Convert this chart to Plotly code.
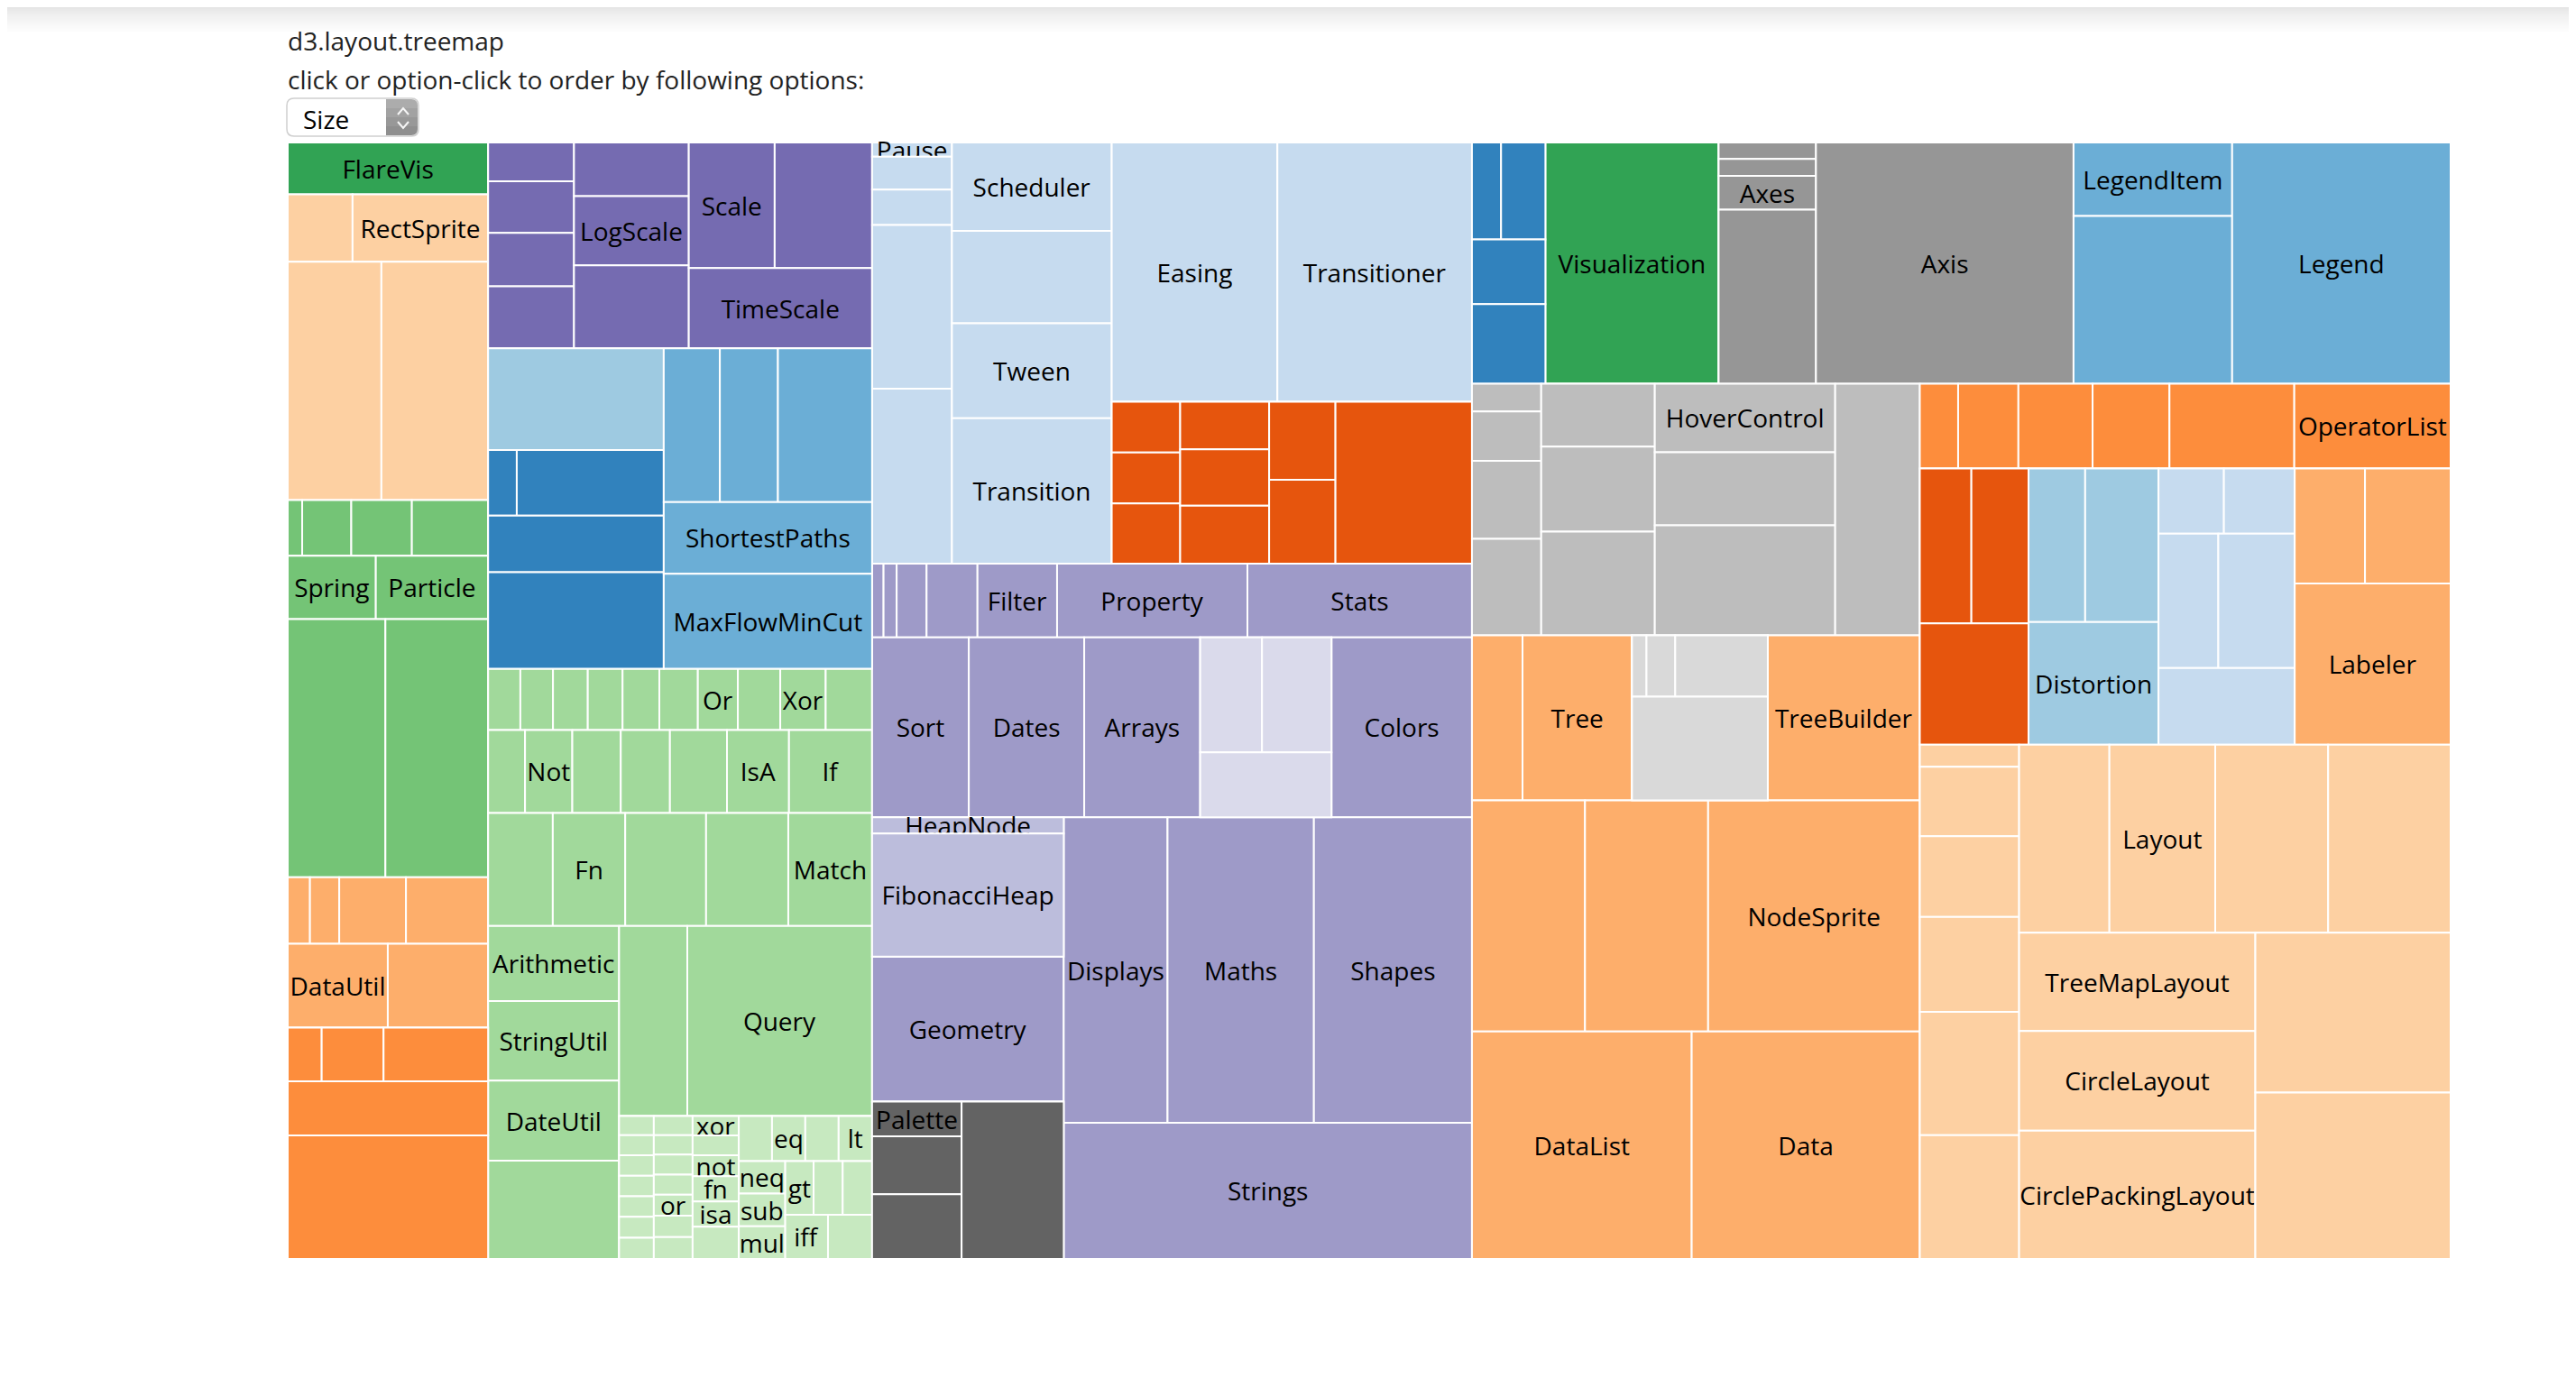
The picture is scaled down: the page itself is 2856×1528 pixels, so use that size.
import plotly.graph_objects as go

# ---------------- data: flare class hierarchy (leaf name, size) ----------------
analytics_cluster = [("AgglomerativeCluster", 3938), ("CommunityStructure", 3812),
                     ("HierarchicalCluster", 6714), ("MergeEdge", 743)]
analytics_graph = [("BetweennessCentrality", 3534), ("LinkDistance", 5731), ("MaxFlowMinCut", 7840),
                   ("ShortestPaths", 5914), ("SpanningTree", 3416)]
analytics_optimization = [("AspectRatioBanker", 7074)]
animate_pkg = [("Easing", 17010), ("FunctionSequence", 5842), ("ISchedulable", 1041), ("Parallel", 5176),
               ("Pause", 449), ("Scheduler", 5593), ("Sequence", 5534), ("Transition", 9201),
               ("Transitioner", 19975), ("TransitionEvent", 1116), ("Tween", 6006)]
animate_interpolate = [("ArrayInterpolator", 1983), ("ColorInterpolator", 2047), ("DateInterpolator", 1375),
                       ("Interpolator", 8746), ("MatrixInterpolator", 2202), ("NumberInterpolator", 1382),
                       ("ObjectInterpolator", 1629), ("PointInterpolator", 1675), ("RectangleInterpolator", 2042)]
data_converters = [("Converters", 721), ("DelimitedTextConverter", 4294), ("GraphMLConverter", 9800),
                   ("IDataConverter", 1314), ("JSONConverter", 2220)]
data_pkg = [("DataField", 1759), ("DataSchema", 2165), ("DataSet", 586), ("DataSource", 3331),
            ("DataTable", 772), ("DataUtil", 3322)]
display_pkg = [("DirtySprite", 8833), ("LineSprite", 1732), ("RectSprite", 3623), ("TextSprite", 10066)]
flex_pkg = [("FlareVis", 4116)]
physics_pkg = [("DragForce", 1082), ("GravityForce", 1336), ("IForce", 319), ("NBodyForce", 10498),
               ("Particle", 2822), ("Simulation", 9983), ("Spring", 2213), ("SpringForce", 1681)]
query_pkg = [("AggregateExpression", 1616), ("And", 1027), ("Arithmetic", 3891), ("Average", 891),
             ("BinaryExpression", 2893), ("Comparison", 5103), ("CompositeExpression", 3677), ("Count", 781),
             ("DateUtil", 4141), ("Distinct", 933), ("Expression", 5130), ("ExpressionIterator", 3617),
             ("Fn", 3240), ("If", 2732), ("IsA", 2039), ("Literal", 1214), ("Match", 3748), ("Maximum", 843),
             ("Minimum", 843), ("Not", 1554), ("Or", 970), ("Query", 13896), ("Range", 1594),
             ("StringUtil", 4130), ("Sum", 791), ("Variable", 1124), ("Variance", 1876), ("Xor", 1101)]
query_methods = [("add", 593), ("and", 330), ("average", 287), ("count", 277), ("distinct", 292), ("div", 595),
                 ("eq", 594), ("fn", 460), ("gt", 603), ("gte", 625), ("iff", 748), ("isa", 461), ("lt", 597),
                 ("lte", 619), ("max", 283), ("min", 283), ("mod", 591), ("mul", 603), ("neq", 599),
                 ("not", 386), ("or", 323), ("orderby", 307), ("range", 772), ("select", 296), ("stddev", 363),
                 ("sub", 600), ("sum", 280), ("update", 307), ("variance", 335), ("where", 299), ("xor", 354),
                 ("_", 264)]
scale_pkg = [("IScaleMap", 2105), ("LinearScale", 1316), ("LogScale", 3151), ("OrdinalScale", 3770),
             ("QuantileScale", 2435), ("QuantitativeScale", 4839), ("RootScale", 1756), ("Scale", 4268),
             ("ScaleType", 1821), ("TimeScale", 5833)]
util_pkg = [("Arrays", 8258), ("Colors", 10001), ("Dates", 8217), ("Displays", 12555), ("Filter", 2324),
            ("Geometry", 10993), ("IEvaluable", 335), ("IPredicate", 383), ("IValueProxy", 874),
            ("Maths", 17705), ("Orientation", 1486), ("Property", 5559), ("Shapes", 19118), ("Sort", 6887),
            ("Stats", 6557), ("Strings", 22026)]
util_heap = [("FibonacciHeap", 9354), ("HeapNode", 1233)]
util_math = [("DenseMatrix", 3165), ("IMatrix", 2815), ("SparseMatrix", 3366)]
util_palette = [("ColorPalette", 6367), ("Palette", 1229), ("ShapePalette", 2059), ("SizePalette", 2291)]
vis_axis = [("Axes", 1302), ("Axis", 24593), ("AxisGridLine", 652), ("AxisLabel", 636), ("CartesianAxes", 6703)]
vis_controls = [("AnchorControl", 2138), ("ClickControl", 3824), ("Control", 1353), ("ControlList", 4665),
                ("DragControl", 2649), ("ExpandControl", 2832), ("HoverControl", 4896), ("IControl", 763),
                ("PanZoomControl", 5222), ("SelectionControl", 7862), ("TooltipControl", 8435)]
vis_data = [("Data", 20544), ("DataList", 19788), ("DataSprite", 10349), ("EdgeSprite", 3301),
            ("NodeSprite", 19382), ("ScaleBinding", 11275), ("Tree", 7147), ("TreeBuilder", 9930)]
vis_data_render = [("ArrowType", 698), ("EdgeRenderer", 5569), ("IRenderer", 353), ("ShapeRenderer", 2247)]
vis_events = [("DataEvent", 2313), ("SelectionEvent", 1880), ("TooltipEvent", 1701), ("VisualizationEvent", 1117)]
vis_legend = [("Legend", 20859), ("LegendItem", 4614), ("LegendRange", 10530)]
vis_operator_distortion = [("BifocalDistortion", 4461), ("Distortion", 6314), ("FisheyeDistortion", 3444)]
vis_operator_encoder = [("ColorEncoder", 3179), ("Encoder", 4060), ("PropertyEncoder", 4138),
                        ("ShapeEncoder", 1690), ("SizeEncoder", 1830)]
vis_operator_filter = [("FisheyeTreeFilter", 5219), ("GraphDistanceFilter", 3165), ("VisibilityFilter", 3509)]
vis_operator = [("IOperator", 1286), ("Operator", 2490), ("OperatorList", 5248), ("OperatorSequence", 4190),
                ("OperatorSwitch", 2581), ("SortOperator", 2023)]
vis_operator_label = [("Labeler", 9956), ("RadialLabeler", 3899), ("StackedAreaLabeler", 3202)]
vis_operator_layout = [("AxisLayout", 6725), ("BundledEdgeRouter", 3727), ("CircleLayout", 9317),
                       ("CirclePackingLayout", 12003), ("DendrogramLayout", 4853), ("ForceDirectedLayout", 8411),
                       ("IcicleTreeLayout", 4864), ("IndentedTreeLayout", 3174), ("Layout", 7881),
                       ("NodeLinkTreeLayout", 12870), ("PieLayout", 2728), ("RadialTreeLayout", 12348),
                       ("RandomLayout", 870), ("StackedAreaLayout", 9121), ("TreeMapLayout", 9191)]
vis_pkg = [("Visualization", 16540)]

# packages in the order their leaves appear in the source file
PACKAGES = [
    ("flare/analytics/cluster", analytics_cluster), ("flare/analytics/graph", analytics_graph),
    ("flare/analytics/optimization", analytics_optimization), ("flare/animate", animate_pkg),
    ("flare/animate/interpolate", animate_interpolate), ("flare/data/converters", data_converters),
    ("flare/data", data_pkg), ("flare/display", display_pkg), ("flare/flex", flex_pkg),
    ("flare/physics", physics_pkg), ("flare/query", query_pkg), ("flare/query/methods", query_methods),
    ("flare/scale", scale_pkg), ("flare/util", util_pkg), ("flare/util/heap", util_heap),
    ("flare/util/math", util_math), ("flare/util/palette", util_palette), ("flare/vis/axis", vis_axis),
    ("flare/vis/controls", vis_controls), ("flare/vis/data", vis_data), ("flare/vis/data/render", vis_data_render),
    ("flare/vis/events", vis_events), ("flare/vis/legend", vis_legend),
    ("flare/vis/operator/distortion", vis_operator_distortion), ("flare/vis/operator/encoder", vis_operator_encoder),
    ("flare/vis/operator/filter", vis_operator_filter), ("flare/vis/operator", vis_operator),
    ("flare/vis/operator/label", vis_operator_label), ("flare/vis/operator/layout", vis_operator_layout),
    ("flare/vis", vis_pkg),
]

# leaf names whose label is legible in the picture (the rest are too narrow)
LABELED = {
    "FlareVis", "RectSprite", "Spring", "Particle", "DataUtil", "LogScale", "Scale", "TimeScale",
    "ShortestPaths", "MaxFlowMinCut", "Or", "Xor", "Not", "IsA", "If", "Fn", "Match", "Arithmetic",
    "Query", "StringUtil", "DateUtil", "_", "xor", "eq", "lt", "not", "fn", "isa", "or", "neq", "sub",
    "mul", "gt", "iff", "Pause", "Scheduler", "Easing", "Transitioner", "Tween", "Transition", "Filter",
    "Property", "Stats", "Sort", "Dates", "Arrays", "Colors", "HeapNode", "FibonacciHeap", "Geometry",
    "Displays", "Maths", "Shapes", "Strings", "Palette", "Visualization", "Axes", "Axis", "LegendItem",
    "Legend", "HoverControl", "OperatorList", "Distortion", "Labeler", "Tree", "TreeBuilder",
    "NodeSprite", "DataList", "Data", "Layout", "TreeMapLayout", "CircleLayout", "CirclePackingLayout",
}

# d3 category20c
CATEGORY20C = ["#3182bd", "#6baed6", "#9ecae1", "#c6dbef", "#e6550d", "#fd8d3c", "#fdae6b", "#fdd0a2",
               "#31a354", "#74c476", "#a1d99b", "#c7e9c0", "#756bb1", "#9e9ac8", "#bcbddc", "#dadaeb",
               "#636363", "#969696", "#bdbdbd", "#d9d9d9"]

# ---------------- build hierarchy ----------------
children = {"flare": []}
label_of = {"flare": "flare"}
leaf_size = {}
leaf_parent_name = {}
color_domain = []


def ensure(path):
    if path in children:
        return
    parent = path.rsplit("/", 1)[0]
    ensure(parent)
    children[path] = []
    label_of[path] = path.rsplit("/", 1)[1]
    children[parent].append(path)


for path, leaves in PACKAGES:
    ensure(path)
    pname = label_of[path]
    if pname not in color_domain:
        color_domain.append(pname)
    for name, size in leaves:
        lid = path + "/" + name
        children[path].append(lid)
        label_of[lid] = name
        leaf_size[lid] = size
        leaf_parent_name[lid] = pname


def total(node):
    if node in leaf_size:
        return leaf_size[node]
    return sum(total(c) for c in children[node])


ids, labels, parents, values, colors, templates = [], [], [], [], [], []


def walk(node, parent):
    ids.append(node)
    labels.append(label_of[node])
    parents.append(parent)
    values.append(total(node))
    if node in leaf_size:
        colors.append(CATEGORY20C[color_domain.index(leaf_parent_name[node]) % 20])
        templates.append("%{label}" if label_of[node] in LABELED else "")
    else:
        colors.append("#ffffff")
        templates.append("")
        # "order by size": smallest first (ties: later entry first)
        for c in sorted(reversed(children[node]), key=total):
            walk(c, node)


walk("flare", "")

# ---------------- figure ----------------
W, H = 2840, 1512
ML, MR, MT, MB = 311, 131, 150, 124
PW, PH = W - ML - MR, H - MT - MB


def X(px):  # page px -> paper
    return (px - 8 - ML) / PW


def Y(py):
    return 1 - (py - 8 - MT) / PH


fig = go.Figure(go.Treemap(
    ids=ids, labels=labels, parents=parents, values=values,
    branchvalues="total", sort=False,
    marker=dict(colors=colors, line=dict(color="#ffffff", width=2),
                pad=dict(t=0, l=0, r=0, b=0)),
    tiling=dict(packing="squarify", squarifyratio=(1 + 5 ** 0.5) / 2, pad=0),
    texttemplate=templates, textposition="middle center",
    textfont=dict(family="Open Sans", size=28, color="#000000"),
    pathbar=dict(visible=False),
    root=dict(color="#ffffff"),
    hoverinfo="label+value",
))

shapes = []
# soft page-top shadow
for i in range(28):
    g = int(228 + (255 - 228) * (i / 28) ** 0.7)
    shapes.append(dict(type="rect", xref="paper", yref="paper", x0=X(8), x1=X(2848),
                       y0=Y(8 + i), y1=Y(9 + i), line=dict(width=0),
                       fillcolor=f"rgb({g},{g},{g})", layer="above"))


def rpath(x0, y0, x1, y1, r):
    return (f"M{X(x0 + r)},{Y(y0)} L{X(x1 - r)},{Y(y0)} Q{X(x1)},{Y(y0)} {X(x1)},{Y(y0 + r)} "
            f"L{X(x1)},{Y(y1 - r)} Q{X(x1)},{Y(y1)} {X(x1 - r)},{Y(y1)} L{X(x0 + r)},{Y(y1)} "
            f"Q{X(x0)},{Y(y1)} {X(x0)},{Y(y1 - r)} L{X(x0)},{Y(y0 + r)} Q{X(x0)},{Y(y0)} {X(x0 + r)},{Y(y0)} Z")


# select box
shapes.append(dict(type="path", xref="paper", yref="paper", path=rpath(318, 109, 464, 151, 8),
                   fillcolor="#ffffff", line=dict(color="#cfcfcf", width=1.5), layer="above"))
for k in range(4):
    g = [172, 162, 152, 143][k]
    ya, yb = 110 + k * 10, 110 + (k + 1) * 10 if k < 3 else 150
    r = 7
    if k == 0:
        p = (f"M{X(428)},{Y(ya)} L{X(463 - r)},{Y(ya)} Q{X(463)},{Y(ya)} {X(463)},{Y(ya + r)} "
             f"L{X(463)},{Y(yb)} L{X(428)},{Y(yb)} Z")
    elif k == 3:
        p = (f"M{X(428)},{Y(ya)} L{X(463)},{Y(ya)} L{X(463)},{Y(yb - r)} Q{X(463)},{Y(yb)} {X(463 - r)},{Y(yb)} "
             f"L{X(428)},{Y(yb)} Z")
    else:
        p = f"M{X(428)},{Y(ya)} L{X(463)},{Y(ya)} L{X(463)},{Y(yb)} L{X(428)},{Y(yb)} Z"
    shapes.append(dict(type="path", xref="paper", yref="paper", path=p,
                       fillcolor=f"rgb({g},{g},{g})", line=dict(width=0), layer="above"))
shapes.append(dict(type="path", xref="paper", yref="paper",
                   path=f"M{X(441)},{Y(127)} L{X(447)},{Y(120)} L{X(453)},{Y(127)}",
                   line=dict(color="#f6f6f6", width=2), layer="above"))
shapes.append(dict(type="path", xref="paper", yref="paper",
                   path=f"M{X(441)},{Y(135)} L{X(447)},{Y(142)} L{X(453)},{Y(135)}",
                   line=dict(color="#f6f6f6", width=2), layer="above"))

annotations = [
    dict(text="d3.layout.treemap", x=X(317), y=Y(45), xref="paper", yref="paper",
         xanchor="left", yanchor="middle", showarrow=False,
         font=dict(family="Open Sans", size=28, color="#222222")),
    dict(text="click or option-click to order by following options:", x=X(317), y=Y(88),
         xref="paper", yref="paper", xanchor="left", yanchor="middle", showarrow=False,
         font=dict(family="Open Sans", size=28, color="#222222")),
    dict(text="Size", x=X(334), y=Y(132), xref="paper", yref="paper",
         xanchor="left", yanchor="middle", showarrow=False,
         font=dict(family="Open Sans", size=28, color="#000000")),
]

fig.update_layout(
    width=W, height=H,
    margin=dict(l=ML, r=MR, t=MT, b=MB, pad=0),
    paper_bgcolor="#ffffff", plot_bgcolor="#ffffff",
    uniformtext=dict(minsize=28, mode="show"),
    shapes=shapes, annotations=annotations,
    showlegend=False,
)

fig.write_html("out.html")
